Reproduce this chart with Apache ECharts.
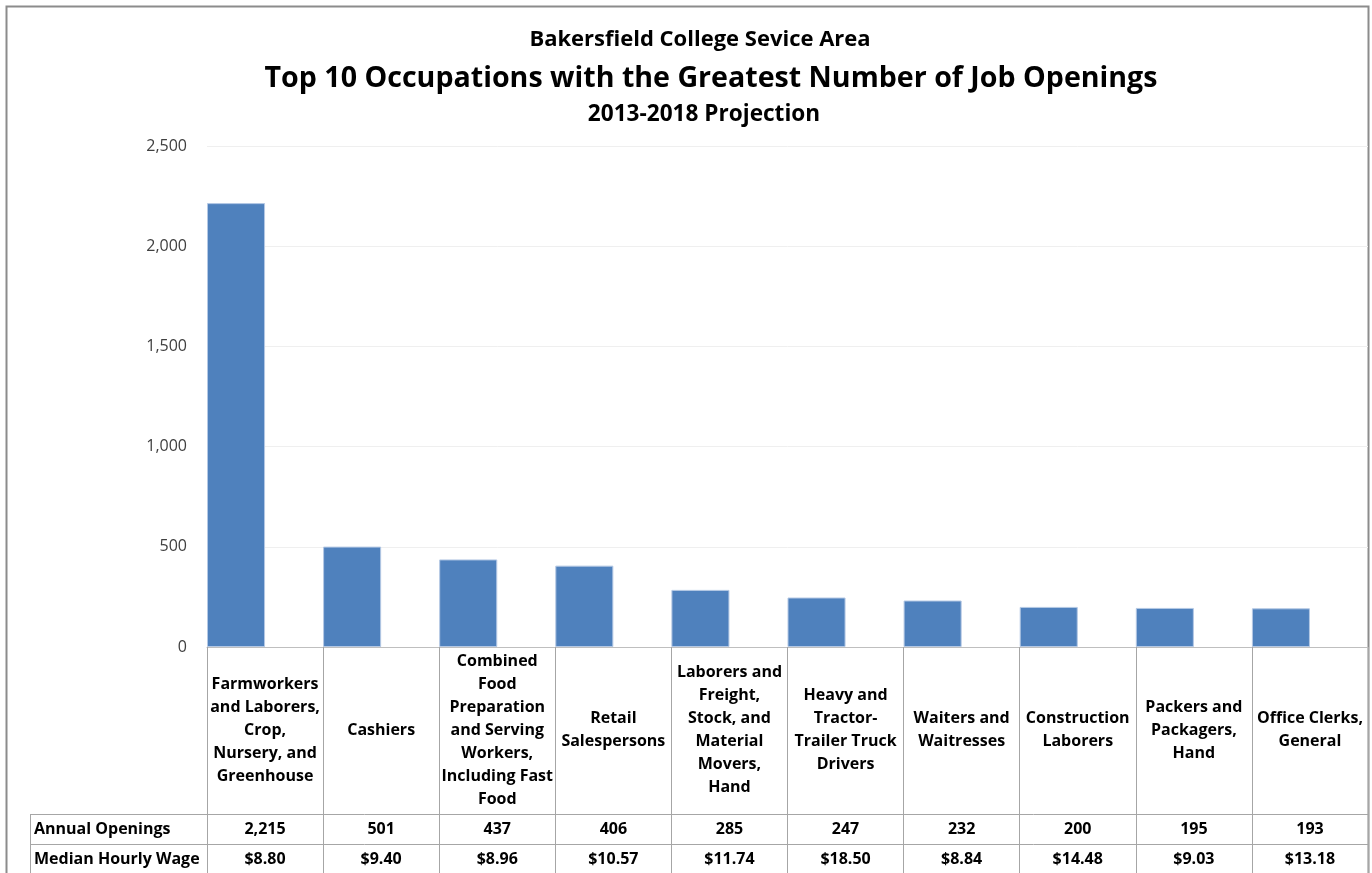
<!DOCTYPE html>
<html>
<head>
<meta charset="utf-8">
<title>Top 10 Occupations</title>
<script src="https://cdn.jsdelivr.net/npm/echarts@6/dist/echarts.min.js"></script>
<style>
  html, body { margin: 0; padding: 0; background: #fff; }
  #chart { width: 1372px; height: 873px; }
</style>
</head>
<body>
<div id="chart"></div>
<script>
// occupation names, broken the way the original table cells wrap
const categories = [
  'Farmworkers\nand Laborers,\nCrop,\nNursery, and\nGreenhouse',
  'Cashiers',
  'Combined\nFood\nPreparation\nand Serving\nWorkers,\nIncluding Fast\nFood',
  'Retail\nSalespersons',
  'Laborers and\nFreight,\nStock, and\nMaterial\nMovers,\nHand',
  'Heavy and\nTractor-\nTrailer Truck\nDrivers',
  'Waiters and\nWaitresses',
  'Construction\nLaborers',
  'Packers and\nPackagers,\nHand',
  'Office Clerks,\nGeneral'
]
const openings = [2215, 501, 437, 406, 285, 247, 232, 200, 195, 193]
const wages = [8.80, 9.40, 8.96, 10.57, 11.74, 18.50, 8.84, 14.48, 9.03, 13.18]
const rowNames = ['Annual Openings', 'Median Hourly Wage']
const yMax = 2500
const yStep = 500

const FONT = '"Open Sans"'
const lineColor = '#a6a6a6'

const chart = echarts.init(document.getElementById('chart'))

const fmtNum = v => v.toLocaleString('en-US')
const fmtWage = v => '$' + v.toFixed(2)

const tableAxis = (labels, margin) => ({
  type: 'category',
  gridIndex: 0,
  position: 'bottom',
  data: labels,
  axisLine: { show: false },
  axisTick: { show: false },
  axisLabel: {
    interval: 0,
    margin: margin,
    verticalAlign: 'middle',
    fontFamily: FONT,
    fontWeight: 'bold',
    fontSize: 16,
    color: '#000'
  }
})

const option = {
  animation: false,
  backgroundColor: '#fff',
  title: [
    {
      text: 'Bakersfield College Sevice Area',
      left: 695, top: 24, textAlign: 'center',
      textStyle: { fontFamily: FONT, fontWeight: 'bold', fontSize: 22, color: '#000' }
    },
    {
      text: 'Top 10 Occupations with the Greatest Number of Job Openings',
      left: 706, top: 59, textAlign: 'center',
      textStyle: { fontFamily: FONT, fontWeight: 'bold', fontSize: 28.6, color: '#000' }
    },
    {
      text: '2013-2018 Projection',
      left: 699, top: 98, textAlign: 'center',
      textStyle: { fontFamily: FONT, fontWeight: 'bold', fontSize: 22.6, color: '#000' }
    }
  ],
  grid: {
    left: 207,
    right: 4,
    top: 146,
    bottom: 226,
    outerBoundsMode: 'none'
  },
  xAxis: [
    {
      type: 'category',
      data: categories,
      axisLine: { lineStyle: { color: '#bfbfbf', width: 1 } },
      axisTick: {
        show: true,
        interval: 0,
        length: 228,
        lineStyle: { color: lineColor, width: 1 }
      },
      axisLabel: {
        interval: 0,
        margin: 83,
        verticalAlign: 'middle',
        align: 'center',
        lineHeight: 23,
        fontFamily: FONT,
        fontWeight: 'bold',
        fontSize: 16,
        color: '#000'
      }
    },
    tableAxis(openings.map(fmtNum), 182),
    tableAxis(wages.map(fmtWage), 212)
  ],
  yAxis: {
    type: 'value',
    min: 0,
    max: yMax,
    interval: yStep,
    axisLine: { show: false },
    axisTick: { show: false },
    splitLine: { lineStyle: { color: '#efefef', width: 1 } },
    axisLabel: {
      margin: 20,
      fontFamily: FONT,
      fontSize: 16,
      color: '#404040',
      formatter: v => fmtNum(v)
    }
  },
  series: [
    {
      name: 'Annual Openings',
      type: 'bar',
      data: openings,
      barGap: '0%',
      barCategoryGap: '0%',
      itemStyle: { color: '#4f81bd', borderColor: '#b4c8e4', borderWidth: 1 }
    },
    {
      // wage series sits in the chart but has no fill, leaving the right half empty
      name: 'Median Hourly Wage',
      type: 'bar',
      data: wages,
      itemStyle: { color: 'rgba(0,0,0,0)' }
    }
  ],
  graphic: [
    // outer chart border
    {
      type: 'rect', silent: true,
      shape: { x: 6.5, y: 6.5, width: 1362, height: 900 },
      style: { fill: 'none', stroke: '#8c8c8c', lineWidth: 2 }
    },
    // data table grid
    {
      type: 'line', silent: true,
      shape: { x1: 30, y1: 814.5, x2: 1368, y2: 814.5 },
      style: { stroke: lineColor, lineWidth: 1 }
    },
    {
      type: 'line', silent: true,
      shape: { x1: 30, y1: 844.5, x2: 1368, y2: 844.5 },
      style: { stroke: lineColor, lineWidth: 1 }
    },
    {
      type: 'line', silent: true,
      shape: { x1: 30.5, y1: 814, x2: 30.5, y2: 873 },
      style: { stroke: lineColor, lineWidth: 1 }
    },
    {
      type: 'text', silent: true, left: 34, top: 821,
      style: { text: rowNames[0], fontFamily: FONT, fontWeight: 'bold', fontSize: 16, fill: '#000' }
    },
    {
      type: 'text', silent: true, left: 34, top: 851,
      style: { text: rowNames[1], fontFamily: FONT, fontWeight: 'bold', fontSize: 16, fill: '#000' }
    }
  ]
}

chart.setOption(option)
</script>
</body>
</html>
